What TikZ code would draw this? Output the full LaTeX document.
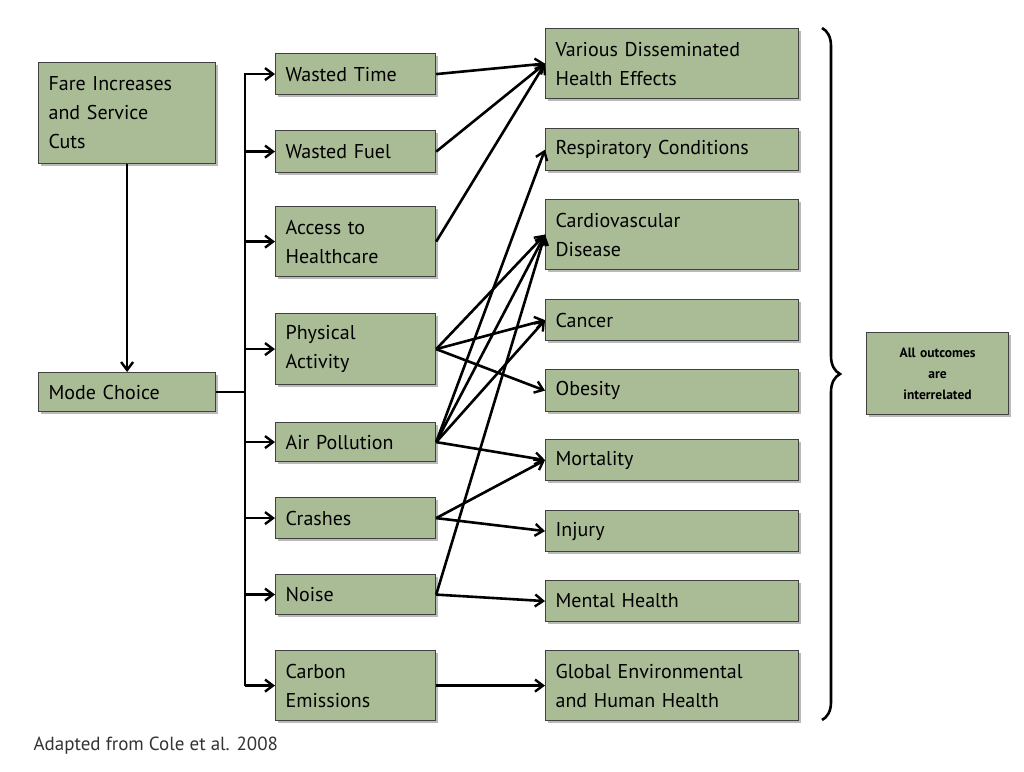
\documentclass[tikz,border=0pt]{standalone}
\usepackage{fontspec}
\setmainfont{PT Sans}
\usetikzlibrary{arrows.meta,decorations.pathreplacing,shadows}
\definecolor{sage}{RGB}{170,188,150}
\begin{document}
\begin{tikzpicture}[x=1pt,y=-1pt,
  box/.style={draw=black!75,line width=1.2pt,fill=sage,drop shadow={shadow xshift=2pt,shadow yshift=-2pt,fill=black!45,opacity=0.6},
    font=\fontsize{20}{29}\selectfont,align=left,inner sep=0pt,anchor=north west},
  ar/.style={line width=2.6pt,-{Straight Barb[length=8pt,width=12pt,line width=2.4pt]}}]
\useasboundingbox (0,0) rectangle (1024,771);
\def\B#1#2#3#4#5#6{\node[box,minimum width=#4pt-#2pt,minimum height=#5pt-#3pt,text width=#4pt-#2pt-20pt,inner xsep=10pt] (#1) at (#2,#3) {#6};}
\B{fare}{38}{62}{215}{163}{Fare Increases\\and Service\\Cuts}
\B{mode}{38}{372}{215}{411}{Mode Choice}
\B{wt}{275}{53}{435}{94}{Wasted Time}
\B{wf}{275}{130}{435}{172}{Wasted Fuel}
\B{ah}{275}{206}{435}{276}{Access to\\Healthcare}
\B{pa}{275}{313}{435}{384}{Physical\\Activity}
\B{ap}{275}{422}{435}{461}{Air Pollution}
\B{cr}{275}{497}{435}{538}{Crashes}
\B{no}{275}{574}{435}{614}{Noise}
\B{ce}{275}{650}{435}{720}{Carbon\\Emissions}
\B{vd}{545}{28}{798}{98}{Various Disseminated\\Health Effects}
\B{rc}{545}{128}{798}{170}{Respiratory Conditions}
\B{cd}{545}{199}{798}{269}{Cardiovascular\\Disease}
\B{ca}{545}{299}{798}{340}{Cancer}
\B{ob}{545}{369}{798}{411}{Obesity}
\B{mo}{545}{439}{798}{480}{Mortality}
\B{in}{545}{510}{798}{551}{Injury}
\B{mh}{545}{580}{798}{621}{Mental Health}
\B{ge}{545}{650}{798}{720}{Global Environmental\\and Human Health}
\node[box,minimum width=142pt,minimum height=82pt,text width=142pt,align=center,font=\fontsize{13.5}{21}\selectfont\bfseries,inner xsep=0pt] (all) at (866,332) {All outcomes\\are\\interrelated};
\draw[ar] (fare.south) -- (mode.north);
\coordinate (bt) at (245,73);
\coordinate (bb) at (245,686);
\draw[line width=2.6pt] (mode.east) -- (mode.east -| bt);
\draw[line width=2.6pt] (bt) -- (bb);
\foreach \n in {wt,wf,ah,pa,ap,cr,no,ce} \draw[ar] (\n.west -| bt) -- (\n.west);
\foreach \a/\b in {wt/vd,wf/vd,ah/vd,pa/cd,pa/ca,pa/ob,ap/rc,ap/cd,ap/ca,ap/mo,no/cd,cr/mo,cr/in,no/mh,ce/ge}
  \draw[ar] (\a.east) -- (\b.west);
\draw[line width=2.6pt,decorate,decoration={brace,amplitude=18pt,aspect=0.5}] (822,28) -- (822,720);
\node[anchor=west,font=\fontsize{19}{22}\selectfont,text=black!80] (cap) at (30,746) {Adapted from Cole et al. 2008};
\end{tikzpicture}
\end{document}
